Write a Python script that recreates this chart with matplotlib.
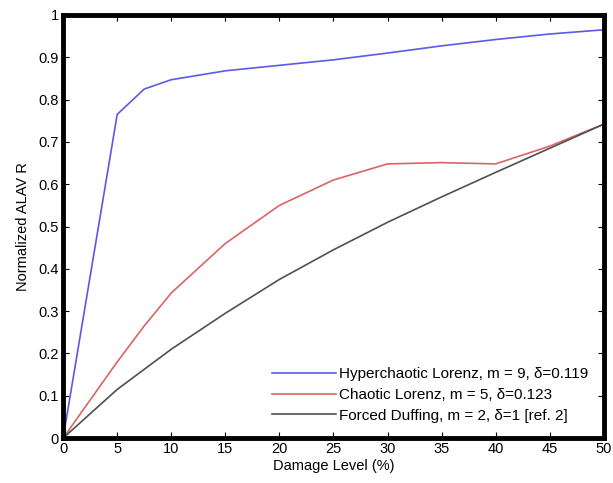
import matplotlib
matplotlib.use("Agg")
import matplotlib.pyplot as plt

plt.rcParams['font.family'] = ['Liberation Sans', 'DejaVu Sans']

# Damage level (%) and normalized ALAV R for each system
damage = [0, 5, 7.5, 10, 15, 20, 25, 30, 35, 40, 45, 50]
hyper = [0, 0.765, 0.825, 0.847, 0.868, 0.881, 0.894, 0.910, 0.927, 0.942, 0.955, 0.965]
chaotic = [0, 0.180, 0.265, 0.343, 0.460, 0.550, 0.610, 0.648, 0.651, 0.648, 0.690, 0.742]
duffing_x = [0, 5, 10, 15, 20, 25, 30, 35, 40, 45, 50]
duffing = [0, 0.115, 0.210, 0.295, 0.375, 0.445, 0.510, 0.570, 0.628, 0.685, 0.742]

labels = ["Hyperchaotic Lorenz, m = 9, δ=0.119",
          "Chaotic Lorenz, m = 5, δ=0.123",
          "Forced Duffing, m = 2, δ=1 [ref. 2]"]

fig = plt.figure(figsize=(6.13, 4.83), dpi=100)
ax = fig.add_axes([0.103, 0.093, 0.882, 0.876])

ax.plot(damage, hyper, color="#5a5ae6", lw=1.2, label=labels[0])
ax.plot(damage, chaotic, color="#dc6464", lw=1.2, label=labels[1])
ax.plot(duffing_x, duffing, color="#505050", lw=1.2, label=labels[2])

ax.set_xlim(0, 50)
ax.set_ylim(0, 1)
ax.set_xticks(range(0, 51, 5))
ax.set_yticks([i / 10 for i in range(11)])
ax.set_yticklabels(["0", "0.1", "0.2", "0.3", "0.4", "0.5", "0.6", "0.7", "0.8", "0.9", "1"])
ax.tick_params(direction="in", top=True, right=True, length=4, width=0.8, labelsize=10.5, pad=3)
for s in ax.spines.values():
    s.set_linewidth(3.5)

ax.set_xlabel("Damage Level (%)", fontsize=10.5, labelpad=2)
ax.set_ylabel("Normalized ALAV R", fontsize=10.5, labelpad=6)

leg = ax.legend(loc="lower right", frameon=False, fontsize=11, handlelength=4.2,
                handletextpad=0.2, labelspacing=0.45, borderaxespad=0.6)

fig.savefig("out.png", dpi=100)
